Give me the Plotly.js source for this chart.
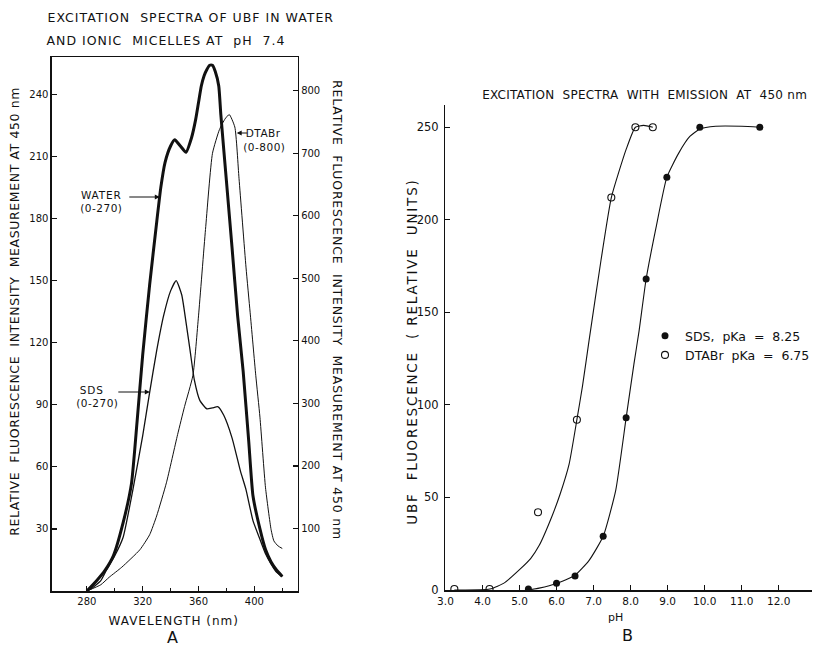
<!DOCTYPE html>
<html>
<head>
<meta charset="utf-8">
<script src="https://cdn.plot.ly/plotly-3.0.1.min.js"></script>
<style>html,body{margin:0;padding:0;background:#fff;}#chart{width:815px;height:647px;}</style>
</head>
<body>
<div id="chart"></div>
<script>
// ---- Panel A: excitation spectra (wavelength, nm) ----
const waterWl  = [280,287,293,299,306,312,316,320,325,330,333,336,340,343,347,351,355,358,360,362,364,366,368,370,372,374.5,376,380,384,388,392,396,399,404,408,412,416,420];
const waterVal = [0,5,10,17,33,52,82,114,148,178,195,207,215,218,215,212,219,228,236,244,249,252,254,254,251,244,230,198,166,133,106,72,46,30,20,14,10,7];

const sdsWl  = [280,283,290,294,300,306,313,320,325,330,335,340,344,348,351,354,357,361,366,370,374,378,384,390,394,399,404,408,412,416,420];
const sdsVal = [0,1,5,10,17,26,49,75,96,116,133,145,150,143,130,116,102,92,88,88.5,89,85,74,58,49,34,25,18,13,9,7];

const dtabWl  = [280,290,296,305,318,325,330,337,345,350,356,360,365,370,375,379,382,386,389,394,397,401,404,408,412,414,417,420];
const dtabVal = [0,10,22,38,66,90,120,173,250,295,345,440,578,700,738,755,762,742,660,518,445,345,278,165,98,80,72,68];

const aXTicks = [280,320,360,400];
const aXMinor = [300,340,380,420];
const aLeftTicks = [30,60,90,120,150,180,210,240];
const aRightTicks = [100,200,300,400,500,600,700,800];

// ---- Panel B: fluorescence vs pH ----
const sdsPH  = [5.24,6.0,6.5,7.26,7.88,8.42,8.98,9.87,11.49];
const sdsFl  = [0.5,3.7,7.6,29,93,168,223,250,250];
const dtabPH = [3.24,4.19,5.5,6.55,7.48,8.13,8.6];
const dtabFl = [0.5,0.5,42,92,212,250,250];

const sdsCurvePH = [5.24,5.53,6.0,6.5,6.88,7.26,7.6,7.88,8.09,8.23,8.42,8.69,8.98,9.3,9.6,9.87,10.3,11.0,11.49];
const sdsCurveFl = [0,1,3.5,8,16,29,54,93,122,140,168,196,223,236,245,249,250.5,250.5,250];
const dtabCurvePH = [3.24,4.2,4.6,5.0,5.3,5.53,5.88,6.1,6.34,6.55,6.70,6.88,7.2,7.48,7.88,8.13,8.35,8.6];
const dtabCurveFl = [0,0.5,4,11,17,24,40,52,68,92,110,135,178,212,238,250,251,250];

const bXTicks = [3,4,5,6,7,8,9,10,11,12];
const bXText  = ['3.0','4.0','5.0','6.0','7.0','8.0','9.0','10.0','11.0','12.0'];
const bYTicks = [0,50,100,150,200,250];

const INK = '#111';
const W = 815, H = 647;
const px = v => v / W;
const py = v => 1 - v / H;
const FONT = 'DejaVu Sans, Liberation Sans, sans-serif';

const traces = [
  {x: waterWl, y: waterVal, xaxis:'x', yaxis:'y', mode:'lines', line:{color:INK, width:3, shape:'spline', smoothing:0.5}, showlegend:false, hoverinfo:'skip'},
  {x: sdsWl, y: sdsVal, xaxis:'x', yaxis:'y', mode:'lines', line:{color:INK, width:1.3, shape:'spline', smoothing:0.5}, showlegend:false, hoverinfo:'skip'},
  {x: dtabWl, y: dtabVal, xaxis:'x', yaxis:'y2', mode:'lines', line:{color:INK, width:1, shape:'spline', smoothing:0.5}, showlegend:false, hoverinfo:'skip'},

  {x: sdsCurvePH, y: sdsCurveFl, xaxis:'x3', yaxis:'y3', mode:'lines', line:{color:INK, width:1.1, shape:'spline', smoothing:0.5}, showlegend:false, hoverinfo:'skip'},
  {x: dtabCurvePH, y: dtabCurveFl, xaxis:'x3', yaxis:'y3', mode:'lines', line:{color:INK, width:1.1, shape:'spline', smoothing:0.5}, showlegend:false, hoverinfo:'skip'},
  {x: sdsPH, y: sdsFl, xaxis:'x3', yaxis:'y3', mode:'markers', name:'SDS,  pKa  =  8.25', marker:{symbol:'circle', size:7, color:INK}},
  {x: dtabPH, y: dtabFl, xaxis:'x3', yaxis:'y3', mode:'markers', name:'DTABr  pKa  =  6.75', marker:{symbol:'circle-open', size:7, color:INK, line:{width:1.1, color:INK}}}
];

const axBase = {showgrid:false, zeroline:false, showline:true, linecolor:INK, linewidth:1.5, ticks:'inside', tickcolor:INK, ticklen:5, tickwidth:1.2, tickfont:{family:FONT, size:10, color:INK}, fixedrange:true};

// annotations, with a letter spacing (px) applied after drawing
const annSpecs = [
  // [text, x px, y px, size, angle, spacing]
  ['EXCITATION  SPECTRA OF UBF IN WATER', 191, 18, 12.5, 0, 1],
  ['AND IONIC  MICELLES AT  pH  7.4', 166, 40, 12.5, 0, 1],
  ['RELATIVE  FLUORESCENCE  INTENSITY  MEASUREMENT AT 450 nm', 14, 311, 12.5, -90, 0.6],
  ['RELATIVE  FLUORESCENCE  INTENSITY  MEASUREMENT AT 450 nm', 338, 310, 12.5, 90, 0.8],
  ['WAVELENGTH (nm)', 174, 621, 12, 0, 1],
  ['A', 173, 637, 16, 0, 0],
  ['WATER', 102, 195, 10.5, 0, 0.8],
  ['(0-270)', 102, 208, 10.5, 0, 0.5],
  ['DTABr', 264, 133, 10.5, 0, 0.5],
  ['(0-800)', 265, 147, 10.5, 0, 0.5],
  ['SDS', 92, 390, 10.5, 0, 0.8],
  ['(0-270)', 98, 403, 10.5, 0, 0.5],
  ['EXCITATION  SPECTRA  WITH  EMISSION  AT  450 nm', 645, 95, 12, 0, 0.25],
  ['UBF  FLUORESCENCE  ( RELATIVE  UNITS)', 413, 351, 13.5, -90, 1.8],
  ['pH', 616, 617, 11, 0, 0],
  ['B', 628, 635, 16, 0, 0]
];
const annotations = annSpecs.map(s => ({xref:'paper', yref:'paper', x:px(s[1]), y:py(s[2]), xanchor:'center', yanchor:'middle', textangle:s[4], showarrow:false, text:s[0], font:{size:s[3], family:FONT, color:INK}}));
// arrows for curve labels
annotations.push(
  {xref:'paper', yref:'paper', x:px(160), y:py(197), ax:-32, ay:0, text:'', showarrow:true, arrowhead:2, arrowsize:1, arrowwidth:1, arrowcolor:INK},
  {xref:'paper', yref:'paper', x:px(237), y:py(133), ax:12, ay:0, text:'', showarrow:true, arrowhead:2, arrowsize:1, arrowwidth:1, arrowcolor:INK},
  {xref:'paper', yref:'paper', x:px(150), y:py(392), ax:-33, ay:0, text:'', showarrow:true, arrowhead:2, arrowsize:1, arrowwidth:1, arrowcolor:INK}
);

const layout = {
  width: W, height: H,
  margin: {l:0, r:0, t:0, b:0, pad:0},
  paper_bgcolor:'#fff', plot_bgcolor:'rgba(0,0,0,0)',
  font:{family:FONT, color:INK},
  xaxis: Object.assign({}, axBase, {domain:[px(52), px(298)], range:[255,431], anchor:'y', mirror:true, tickmode:'array', tickvals:aXTicks,
          minor:{tickmode:'array', tickvals:aXMinor, ticks:'inside', ticklen:3, tickcolor:INK, showgrid:false}}),
  yaxis: Object.assign({}, axBase, {domain:[py(591), py(57)], range:[0,258], anchor:'x', tickmode:'array', tickvals:aLeftTicks}),
  yaxis2: Object.assign({}, axBase, {domain:[py(591), py(57)], range:[0,854], anchor:'x', overlaying:'y', side:'right', tickmode:'array', tickvals:aRightTicks}),
  xaxis3: Object.assign({}, axBase, {domain:[px(446), px(813)], range:[3.0,12.9], anchor:'y3', tickmode:'array', tickvals:bXTicks, ticktext:bXText, tickfont:{family:FONT, size:10.5, color:INK}, ticklabelstandoff:1}),
  yaxis3: Object.assign({}, axBase, {domain:[py(590), py(105)], range:[0,262], anchor:'x3', tickmode:'array', tickvals:bYTicks, tickfont:{family:FONT, size:11.5, color:INK}, ticklabelstandoff:3}),
  showlegend:true,
  legend:{x:px(646), y:py(321), xanchor:'left', yanchor:'top', bgcolor:'rgba(0,0,0,0)', font:{family:FONT, size:12.5, color:INK}, itemwidth:30, tracegroupgap:0},
  annotations: annotations
};

Plotly.newPlot('chart', traces, layout, {staticPlot:true, displayModeBar:false}).then(gd => {
  annSpecs.forEach((s, i) => {
    if (!s[5]) return;
    const t = gd.querySelector('.annotation[data-index="' + i + '"] text');
    if (t) t.style.letterSpacing = s[5] + 'px';
  });
});
</script>
</body>
</html>
